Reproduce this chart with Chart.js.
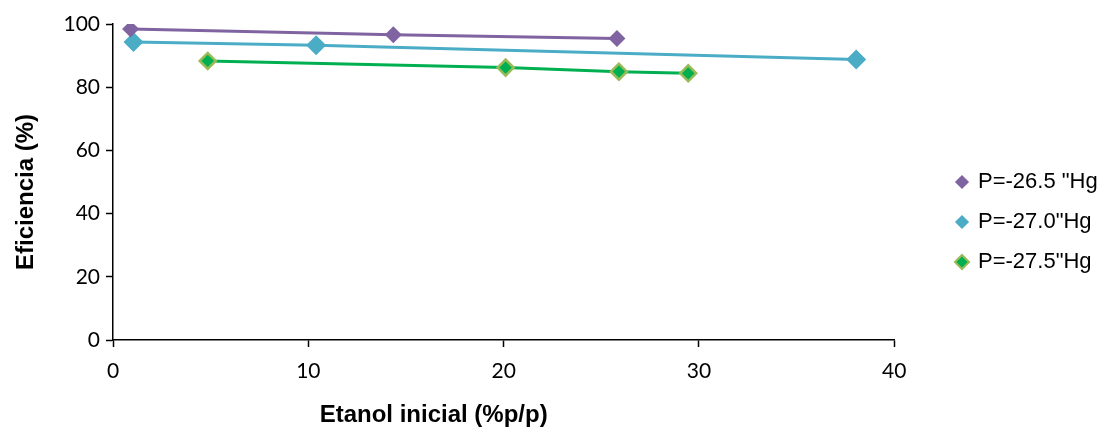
<!DOCTYPE html>
<html>
<head>
<meta charset="utf-8">
<script src="https://cdn.jsdelivr.net/npm/chart.js@4.4.1/dist/chart.umd.min.js"></script>
<style>
  html, body { margin: 0; padding: 0; background: #fff; }
  #wrap { width: 1117px; height: 432px; }
</style>
</head>
<body>
<div id="wrap"><canvas id="effChart" width="1117" height="432"></canvas></div>
<script>
// series names (legend)
const seriesNames = ['P=-26.5 "Hg', 'P=-27.0"Hg', 'P=-27.5"Hg'];

// Etanol inicial (%p/p)
const etanolA = [0.9, 14.35, 25.8];
const etanolB = [1.05, 10.4, 38.05];
const etanolC = [4.85, 20.1, 25.9, 29.45];

// Eficiencia (%)
const eficA = [98.4, 96.6, 95.4];
const eficB = [94.3, 93.3, 88.8];
const eficC = [88.3, 86.2, 84.9, 84.4];

// axis ticks
const xTicks = [0, 10, 20, 30, 40];
const yTicks = [0, 20, 40, 60, 80, 100];

const xTitle = "Etanol inicial (%p/p)";
const yTitle = "Eficiencia (%)";

// pair x / y arrays into points
function toPoints(xs, ys) {
  return xs.map((x, i) => ({ x: x, y: ys[i] }));
}

// move the legend block to where the original has it
const LEGEND_LEFT = 939;
const LEGEND_DY = -6;
const legendShift = {
  id: "legendShift",
  afterLayout(chart) {
    const lg = chart.legend;
    const dx = LEGEND_LEFT - lg.left;
    lg.left += dx;
    lg.right += dx;
    lg.top += LEGEND_DY;
    lg.bottom += LEGEND_DY;
  },
};

const tickFont = { family: "Lato, 'Open Sans', sans-serif", size: 21 };
const titleFont = { family: "'Liberation Sans', Arial, sans-serif", size: 24, weight: "bold" };

const ctx = document.getElementById("effChart").getContext("2d");

const chart = new Chart(ctx, {
  type: "scatter",
  data: {
    datasets: [
      {
        label: seriesNames[0],
        data: toPoints(etanolA, eficA),
        showLine: true,
        borderColor: "#8064A2",
        backgroundColor: "#8064A2",
        borderWidth: 3,
        pointStyle: "rectRot",
        pointRadius: 8.5,
        pointBorderWidth: 0,
        pointBackgroundColor: "#8064A2",
      },
      {
        label: seriesNames[1],
        data: toPoints(etanolB, eficB),
        showLine: true,
        borderColor: "#4BACC6",
        backgroundColor: "#4BACC6",
        borderWidth: 3,
        pointStyle: "rectRot",
        pointRadius: 10,
        pointBorderWidth: 0,
        pointBackgroundColor: "#4BACC6",
      },
      {
        label: seriesNames[2],
        data: toPoints(etanolC, eficC),
        showLine: true,
        borderColor: "#00B050",
        backgroundColor: "#00B050",
        borderWidth: 3,
        pointStyle: "rectRot",
        pointRadius: 8,
        pointBorderWidth: 2.5,
        pointBorderColor: "#9BBB59",
        pointBackgroundColor: "#00B050",
      },
    ],
  },
  options: {
    responsive: false,
    animation: false,
    layout: { padding: { left: 0, right: 54, top: 24, bottom: 0 } },
    plugins: {
      tooltip: { enabled: false },
      legend: {
        position: "right",
        labels: {
          usePointStyle: true,
          boxWidth: 10,
          boxHeight: 10,
          padding: 18,
          color: "#000",
          font: { family: "'Liberation Sans', Arial, sans-serif", size: 22 },
          generateLabels(c) {
            return c.data.datasets.map((ds, i) => ({
              text: ds.label,
              fillStyle: ds.pointBackgroundColor,
              strokeStyle: ds.pointBorderColor || ds.pointBackgroundColor,
              lineWidth: ds.pointBorderWidth ? 2 : 0,
              pointStyle: "rectRot",
              fontColor: "#000",
              datasetIndex: i,
              hidden: false,
            }));
          },
        },
      },
    },
    scales: {
      x: {
        type: "linear",
        min: 0,
        max: 40,
        afterBuildTicks: (s) => { s.ticks = xTicks.map((v) => ({ value: v })); },
        afterFit: (s) => { s.height = 92; },
        border: { color: "#000", width: 1.5 },
        grid: { drawOnChartArea: false, drawTicks: true, tickLength: 7, color: "#000", tickWidth: 1.5 },
        ticks: { color: "#000", font: tickFont, padding: 12, maxRotation: 0 },
        title: {
          display: true,
          // trailing spaces pull the centred title left, as in the original
          text: xTitle + "                     ",
          color: "#000",
          font: titleFont,
          padding: { top: 0, bottom: 2 },
        },
      },
      y: {
        type: "linear",
        min: 0,
        max: 100,
        afterBuildTicks: (s) => { s.ticks = yTicks.map((v) => ({ value: v })); },
        afterFit: (s) => { s.width = 113; },
        border: { color: "#000", width: 1.5 },
        grid: { drawOnChartArea: false, drawTicks: true, tickLength: 7, color: "#000", tickWidth: 1.5 },
        ticks: { color: "#000", font: tickFont, padding: 6 },
        title: {
          display: true,
          text: yTitle + "   ",
          color: "#000",
          font: titleFont,
          padding: { top: 12, bottom: 0 },
        },
      },
    },
  },
  plugins: [legendShift],
});
</script>
</body>
</html>
